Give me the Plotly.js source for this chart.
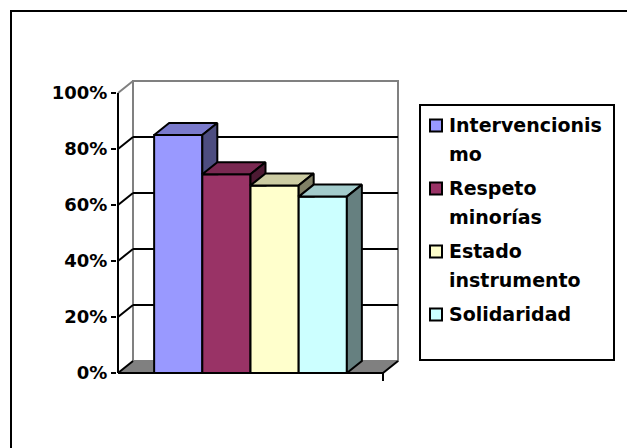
<!DOCTYPE html>
<html>
<head>
<meta charset="utf-8">
<script src="https://cdn.plot.ly/plotly-3.0.1.min.js"></script>
<style>
  html, body { margin: 0; padding: 0; background: #ffffff; }
  #chart { width: 627px; height: 448px; }
</style>
</head>
<body>
<div id="chart"></div>
<script>
// Series (one bar per series), values in percent
const seriesNames = ['Intervencionismo', 'Respeto minorías', 'Estado instrumento', 'Solidaridad'];
const legendLabels = [['Intervencionis', 'mo'], ['Respeto', 'minorías'], ['Estado', 'instrumento'], ['Solidaridad']];
const seriesValues = [85, 71, 67, 63];

// Face colours: front, top (lighter shade) and right side (darker shade)
const frontColors = ['#9999FF', '#993366', '#FFFFCC', '#CCFFFF'];
const topColors   = ['#7A7ACC', '#7A2952', '#CCCCA3', '#A3CCCC'];
const sideColors  = ['#4D4D80', '#4D1A33', '#808066', '#668080'];

// Value axis ticks
const yTickVals = [0, 20, 40, 60, 80, 100];
const yTickText = ['0%', '20%', '40%', '60%', '80%', '100%'];

// ---- page geometry (pixels) ----
const W = 627, H = 448;
const FRONT_LEFT = 118, FRONT_RIGHT = 383, ZERO_Y = 373, PX_PER_PCT = 2.8;
const DEPTH_X = 15, DEPTH_Y = 12;   // oblique depth of the 3-D box
const PAD = 1;

const n = seriesValues.length;
const xL = -1.25, xR = (n - 1) + 1.25;
const pxPerX = (FRONT_RIGHT - FRONT_LEFT) / (xR - xL);
const dx = DEPTH_X / pxPerX;
const dy = DEPTH_Y / PX_PER_PCT;

const xRange = [xL - PAD / pxPerX, xR + dx + PAD / pxPerX];
const yRange = [-PAD / PX_PER_PCT, 100 + dy + PAD / PX_PER_PCT];
const plotLeft = FRONT_LEFT - PAD, plotRight = FRONT_RIGHT + DEPTH_X + PAD;
const plotBottom = ZERO_Y + PAD, plotTop = ZERO_Y - 100 * PX_PER_PCT - DEPTH_Y - PAD;

const pxX = px => (px - plotLeft) / (plotRight - plotLeft);
const pxY = py => (plotBottom - py) / (plotBottom - plotTop);

const BLACK = '#000000', GREY = '#808080';
const FONT = 'DejaVu Sans';

// ---- traces ----
const traces = [];

// front faces: one bar trace per series
seriesValues.forEach((v, i) => {
  traces.push({
    type: 'bar',
    name: seriesNames[i],
    x: [i],
    y: [v],
    width: [1],
    marker: { color: frontColors[i], line: { color: BLACK, width: 2 } },
    hoverinfo: 'name+y',
    showlegend: false
  });
});

// top and right-side faces, derived from each value
seriesValues.forEach((v, i) => {
  const l = i - 0.5, r = i + 0.5;
  traces.push({
    type: 'scatter', mode: 'lines', fill: 'toself',
    x: [l, r, r + dx, l + dx, l],
    y: [v, v, v + dy, v + dy, v],
    fillcolor: topColors[i],
    line: { color: BLACK, width: 2 },
    hoverinfo: 'skip', showlegend: false
  });
  // the part of the side face hidden by the next bar's front is left out
  const next = i + 1 < n ? seriesValues[i + 1] : null;
  const sx = next === null ? [r, r, r + dx, r + dx, r] : [r, r, r + dx, r + dx, r];
  const sy = next === null ? [0, v, v + dy, dy, 0] : [next, v, v + dy, next, next];
  traces.push({
    type: 'scatter', mode: 'lines', fill: 'toself',
    x: sx, y: sy,
    fillcolor: sideColors[i],
    line: { color: BLACK, width: 2 },
    hoverinfo: 'skip', showlegend: false
  });
});

// ---- walls, floor and grid of the 3-D box ----
const shapes = [];

// chart frame
shapes.push({ type: 'rect', xref: 'paper', yref: 'paper', layer: 'below',
  x0: pxX(11), x1: pxX(W + 30), y0: pxY(11), y1: pxY(H + 30),
  line: { color: BLACK, width: 2 }, fillcolor: 'rgba(0,0,0,0)' });

// back wall
shapes.push({ type: 'rect', xref: 'x', yref: 'y', layer: 'below',
  x0: xL + dx, x1: xR + dx, y0: dy, y1: 100 + dy,
  fillcolor: '#FFFFFF', line: { color: GREY, width: 2 } });

// floor
shapes.push({ type: 'path', xref: 'x', yref: 'y', layer: 'below',
  path: `M${xL},0 L${xR},0 L${xR + dx},${dy} L${xL + dx},${dy} Z`,
  fillcolor: GREY, line: { width: 0 } });

// gridlines on the back wall and their continuation on the side wall
yTickVals.forEach(v => {
  const c = v === 100 ? GREY : BLACK;
  if (v > 0 && v < 100) {
    shapes.push({ type: 'line', xref: 'x', yref: 'y', layer: 'below',
      x0: xL + dx, x1: xR + dx, y0: v + dy, y1: v + dy, line: { color: c, width: 2 } });
  }
  shapes.push({ type: 'line', xref: 'x', yref: 'y', layer: 'below',
    x0: xL, x1: xL + dx, y0: v, y1: v + dy, line: { color: c, width: 2 } });
});

// floor right edge, front edge and value axis line
shapes.push({ type: 'line', xref: 'x', yref: 'y', layer: 'below',
  x0: xR, x1: xR + dx, y0: 0, y1: dy, line: { color: BLACK, width: 2 } });
shapes.push({ type: 'line', xref: 'x', yref: 'y', layer: 'below',
  x0: xL, x1: xR, y0: 0, y1: 0, line: { color: BLACK, width: 2 } });
shapes.push({ type: 'line', xref: 'x', yref: 'y', layer: 'below',
  x0: xL, x1: xL, y0: 0, y1: 100, line: { color: BLACK, width: 2 } });
// category axis end tick
shapes.push({ type: 'line', xref: 'paper', yref: 'paper',
  x0: pxX(FRONT_RIGHT), x1: pxX(FRONT_RIGHT), y0: pxY(ZERO_Y), y1: pxY(ZERO_Y + 8),
  line: { color: BLACK, width: 2 } });

// ---- legend (box, colour keys, wrapped labels) ----
const annotations = [];
const LEG_LEFT = 420, LEG_RIGHT = 614, LEG_TOP = 105, LEG_BOTTOM = 360;
shapes.push({ type: 'rect', xref: 'paper', yref: 'paper',
  x0: pxX(LEG_LEFT), x1: pxX(LEG_RIGHT), y0: pxY(LEG_TOP), y1: pxY(LEG_BOTTOM),
  fillcolor: '#FFFFFF', line: { color: BLACK, width: 2 } });

let lineY = 125;
const LINE_STEP = 28.5, ENTRY_GAP = 34.5;
legendLabels.forEach((lines, i) => {
  shapes.push({ type: 'rect', xref: 'paper', yref: 'paper',
    x0: pxX(430), x1: pxX(442), y0: pxY(lineY + 6.5), y1: pxY(lineY - 5.5),
    fillcolor: frontColors[i], line: { color: BLACK, width: 2 } });
  lines.forEach((txt, k) => {
    annotations.push({
      xref: 'paper', yref: 'paper', x: pxX(447), y: pxY(lineY),
      xanchor: 'left', yanchor: 'middle', showarrow: false,
      text: txt,
      font: { family: FONT, size: 19, color: BLACK, weight: 'bold' }
    });
    if (k < lines.length - 1) lineY += LINE_STEP;
  });
  lineY += ENTRY_GAP;
});

const layout = {
  width: W, height: H,
  margin: { l: plotLeft, r: W - plotRight, t: plotTop, b: H - plotBottom, pad: 0 },
  paper_bgcolor: '#FFFFFF',
  plot_bgcolor: 'rgba(0,0,0,0)',
  barmode: 'overlay',
  showlegend: false,
  xaxis: {
    range: xRange, showgrid: false, zeroline: false, showline: false,
    showticklabels: false, ticks: '', fixedrange: true
  },
  yaxis: {
    range: yRange, showgrid: false, zeroline: false, showline: false,
    tickmode: 'array', tickvals: yTickVals, ticktext: yTickText,
    ticks: 'outside', ticklen: 5, tickwidth: 2, tickcolor: BLACK,
    tickfont: { family: FONT, size: 18, color: BLACK, weight: 'bold' },
    fixedrange: true
  },
  shapes: shapes,
  annotations: annotations
};

Plotly.newPlot('chart', traces, layout, { staticPlot: true, displayModeBar: false });
</script>
</body>
</html>
